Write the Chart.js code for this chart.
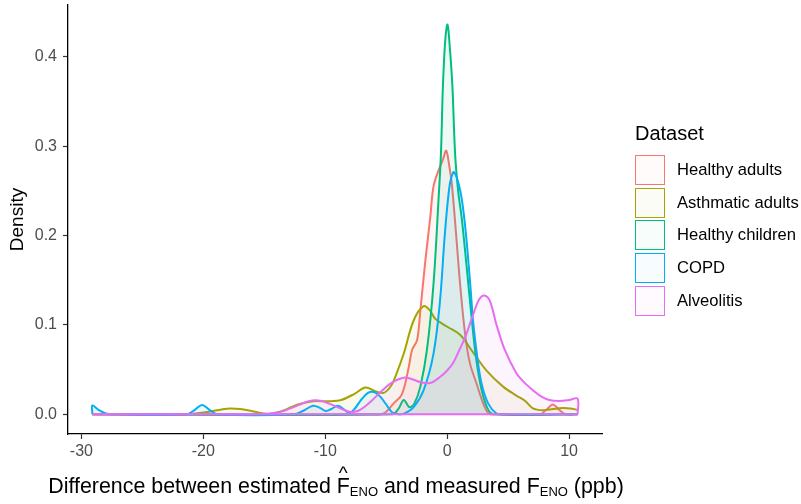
<!DOCTYPE html>
<html>
<head>
<meta charset="utf-8">
<script src="https://cdn.jsdelivr.net/npm/chart.js@4.4.1/dist/chart.umd.min.js"></script>
<style>
  body { margin: 0; background: #fff; }
  #wrap { position: relative; width: 801px; height: 504px; font-family: "Liberation Sans", Arial, sans-serif; }
  #xtitle { position: absolute; left: 0; width: 672px; top: 476px; font-size: 21.4px; line-height: 20px; text-align: center; white-space: nowrap; color: #000; }
  #xtitle sub { font-size: 13px; vertical-align: -3px; line-height: 0; }
  .hat { position: relative; display: inline-block; }
  .hat .c { position: absolute; left: 0; width: 100%; text-align: center; top: -13px; font-size: 19px; }
  #legend { position: absolute; left: 635px; top: 0; }
  #legend .ttl { position: absolute; left: 0; top: 123px; font-size: 20px; line-height: 20px; white-space: nowrap; }
  #legend .box { position: absolute; left: 0; width: 30px; height: 30px; box-sizing: border-box; border: 1.8px solid; }
  #legend .lab { position: absolute; left: 42px; font-size: 16.6px; line-height: 30px; white-space: nowrap; }
</style>
</head>
<body>
<div id="wrap">
  <canvas id="densityChart" width="801" height="504"></canvas>
  <div id="xtitle">Difference between estimated <span class="hat">F<span class="c">^</span></span><sub>ENO</sub> and measured F<sub>ENO</sub> (ppb)</div>
  <div id="legend"><div class="ttl">Dataset</div></div>
</div>
<script>
// density estimates, one x/y pair of arrays per dataset
var categories = ['Healthy adults', 'Asthmatic adults', 'Healthy children', 'COPD', 'Alveolitis'];
var colors = ['#F8766D', '#A3A500', '#00BF7D', '#00B0F6', '#E76BF3'];

var healthyAdultsX = [-29.1, -6.0, -5.2, -4.4, -3.7, -3.15, -2.88, -2.47, -2.2, -1.79, -1.39, -1.12, -0.71, -0.35, -0.08, 0.15, 0.38, 0.73, 1.06, 1.47, 1.87, 2.42, 2.96, 3.4, 4.0, 7.6, 8.2, 8.67, 9.2, 9.7, 10.7];
var healthyAdultsY = [0, 0, 0.001, 0.012, 0.023, 0.053, 0.072, 0.083, 0.116, 0.172, 0.22, 0.255, 0.273, 0.285, 0.295, 0.28, 0.258, 0.202, 0.146, 0.09, 0.057, 0.034, 0.012, 0.001, 0, 0, 0.006, 0.011, 0.005, 0, 0];

var asthmaticX = [-29.1, -21.5, -20.5, -19.5, -18.5, -17.8, -17.0, -16.0, -15.2, -14.6, -14.0, -13.3, -12.25, -11.0, -9.8, -8.7, -7.6, -6.7, -5.9, -5.2, -4.6, -4.2, -3.56, -2.75, -1.93, -1.4, -0.98, 0.02, 1.06, 2.14, 3.23, 4.59, 5.68, 6.4, 7.0, 7.85, 8.7, 9.48, 10.1, 10.7];
var asthmaticY = [0, 0, 0.0012, 0.003, 0.0055, 0.0066, 0.006, 0.0035, 0.0012, 0.0005, 0.002, 0.005, 0.011, 0.0146, 0.0146, 0.016, 0.023, 0.030, 0.026, 0.024, 0.032, 0.044, 0.068, 0.105, 0.121, 0.116, 0.107, 0.098, 0.089, 0.069, 0.049, 0.031, 0.021, 0.015, 0.007, 0.0045, 0.006, 0.007, 0.0065, 0.005];

var healthyChildrenX = [-29.1, -4.5, -4.0, -3.56, -3.1, -2.7, -2.2, -1.66, -1.12, -0.71, -0.51, -0.35, -0.15, 0.03, 0.22, 0.43, 0.65, 0.9, 1.2, 1.6, 2.0, 2.36, 2.83, 3.37, 3.9, 10.7];
var healthyChildrenY = [0, 0, 0.006, 0.016, 0.008, 0.012, 0.031, 0.072, 0.146, 0.24, 0.292, 0.367, 0.42, 0.436, 0.41, 0.367, 0.292, 0.25, 0.219, 0.165, 0.109, 0.064, 0.027, 0.005, 0, 0];

var copdX = [-29.1, -29.1, -28.6, -28.0, -27.4, -21.4, -20.7, -20.1, -19.5, -18.8, -12.6, -11.8, -11.0, -10.4, -9.94, -9.5, -8.99, -8.5, -8.04, -7.6, -7.09, -6.5, -6.0, -5.5, -5.05, -4.5, -4.0, -3.5, -2.75, -1.93, -1.12, -0.6, -0.2, 0.1, 0.3, 0.57, 1.06, 1.39, 1.66, 1.93, 2.14, 2.47, 2.83, 3.37, 4.05, 4.6, 10.7];
var copdY = [0, 0.010, 0.005, 0.001, 0, 0, 0.005, 0.0105, 0.005, 0, 0, 0.004, 0.0097, 0.007, 0.0037, 0.006, 0.0097, 0.006, 0.0015, 0.006, 0.0157, 0.024, 0.025, 0.02, 0.012, 0.002, 0, 0.001, 0.008, 0.027, 0.068, 0.125, 0.2, 0.245, 0.263, 0.271, 0.251, 0.221, 0.184, 0.139, 0.102, 0.064, 0.034, 0.012, 0.001, 0, 0];

var alveolitisX = [-29.1, -16.5, -15.5, -14.5, -13.6, -12.25, -11.5, -10.9, -10.3, -9.8, -8.72, -7.9, -7.3, -6.82, -6.28, -5.46, -4.6, -3.56, -2.8, -2.2, -1.39, -0.57, 0.0, 0.51, 1.0, 1.47, 2.14, 2.6, 3.04, 3.5, 4.05, 4.73, 5.68, 6.3, 7.03, 7.7, 8.39, 9.2, 10.0, 10.7, 10.7];
var alveolitisY = [0, 0, 0.0003, 0.001, 0.003, 0.010, 0.014, 0.0157, 0.015, 0.0127, 0.0064, 0.0026, 0.004, 0.008, 0.014, 0.025, 0.035, 0.041, 0.039, 0.036, 0.035, 0.042, 0.049, 0.058, 0.072, 0.086, 0.112, 0.128, 0.133, 0.127, 0.100, 0.072, 0.046, 0.036, 0.027, 0.020, 0.016, 0.015, 0.016, 0.0175, 0];

var xValues = [healthyAdultsX, asthmaticX, healthyChildrenX, copdX, alveolitisX];
var yValues = [healthyAdultsY, asthmaticY, healthyChildrenY, copdY, alveolitisY];

var xTicks = [-30, -20, -10, 0, 10];
var yTicks = [0, 0.1, 0.2, 0.3, 0.4];
var densityRange = [-29.1, 10.7];

var fontFamily = '"Liberation Sans", Arial, sans-serif';

function hexToRgba(hex, a) {
    var n = parseInt(hex.slice(1), 16);
    return 'rgba(' + (n >> 16) + ',' + ((n >> 8) & 255) + ',' + (n & 255) + ',' + a + ')';
}

var datasets = categories.map(function (name, i) {
    return {
        label: name,
        data: xValues[i].map(function (x, j) { return { x: x, y: yValues[i][j] }; }),
        borderColor: colors[i],
        backgroundColor: hexToRgba(colors[i], 0.07),
        borderWidth: 2,
        fill: 'origin',
        tension: 0.35,
        pointRadius: 0,
        order: categories.length - i
    };
});

// bottom edge of the last density polygon
datasets.push({
    label: 'baseline',
    data: densityRange.map(function (x) { return { x: x, y: 0 }; }),
    borderColor: colors[4],
    borderWidth: 2,
    fill: false,
    pointRadius: 0,
    order: -1
});

// drop the label overhang padding so the plot panel sits where the axes say
function noPad(s) {
    s.paddingTop = 0; s.paddingBottom = 0; s.paddingLeft = 0; s.paddingRight = 0;
}

var ctx = document.getElementById('densityChart').getContext('2d');
var chart = new Chart(ctx, {
    type: 'line',
    data: { datasets: datasets },
    options: {
        responsive: false,
        animation: false,
        devicePixelRatio: 1,
        layout: { padding: { top: 5, right: 199, left: 0, bottom: 0 } },
        plugins: { legend: { display: false }, tooltip: { enabled: false } },
        scales: {
            x: {
                type: 'linear',
                min: -31.1,
                max: 12.7,
                afterBuildTicks: function (s) { s.ticks = xTicks.map(function (v) { return { value: v }; }); },
                afterFit: function (s) { s.height = 70; noPad(s); },
                ticks: { color: '#4D4D4D', font: { size: 16, family: fontFamily }, padding: 3, maxRotation: 0, autoSkip: false },
                grid: { drawOnChartArea: false, drawTicks: true, tickLength: 5, tickColor: '#333', tickWidth: 1.2 },
                border: { color: '#000', width: 1.3 }
            },
            y: {
                type: 'linear',
                min: -0.022,
                max: 0.458,
                afterBuildTicks: function (s) { s.ticks = yTicks.map(function (v) { return { value: v }; }); },
                afterFit: function (s) { s.width = 68; noPad(s); },
                ticks: {
                    color: '#4D4D4D', font: { size: 16, family: fontFamily }, padding: 6,
                    callback: function (v) { return v.toFixed(1); }
                },
                grid: { drawOnChartArea: false, drawTicks: true, tickLength: 5, tickColor: '#333', tickWidth: 1.2 },
                border: { color: '#000', width: 1.3 },
                title: { display: true, text: 'Density', color: '#000', font: { size: 19, family: fontFamily }, padding: { top: 6, bottom: 0 } }
            }
        }
    }
});

// legend drawn as html next to the plot
var legend = document.getElementById('legend');
categories.forEach(function (name, i) {
    var top = 155 + i * 32.7;
    var box = document.createElement('div');
    box.className = 'box';
    box.style.top = top + 'px';
    box.style.borderColor = colors[i];
    box.style.background = hexToRgba(colors[i], 0.03);
    legend.appendChild(box);
    var lab = document.createElement('div');
    lab.className = 'lab';
    lab.style.top = top + 'px';
    lab.textContent = name;
    legend.appendChild(lab);
});
</script>
</body>
</html>
